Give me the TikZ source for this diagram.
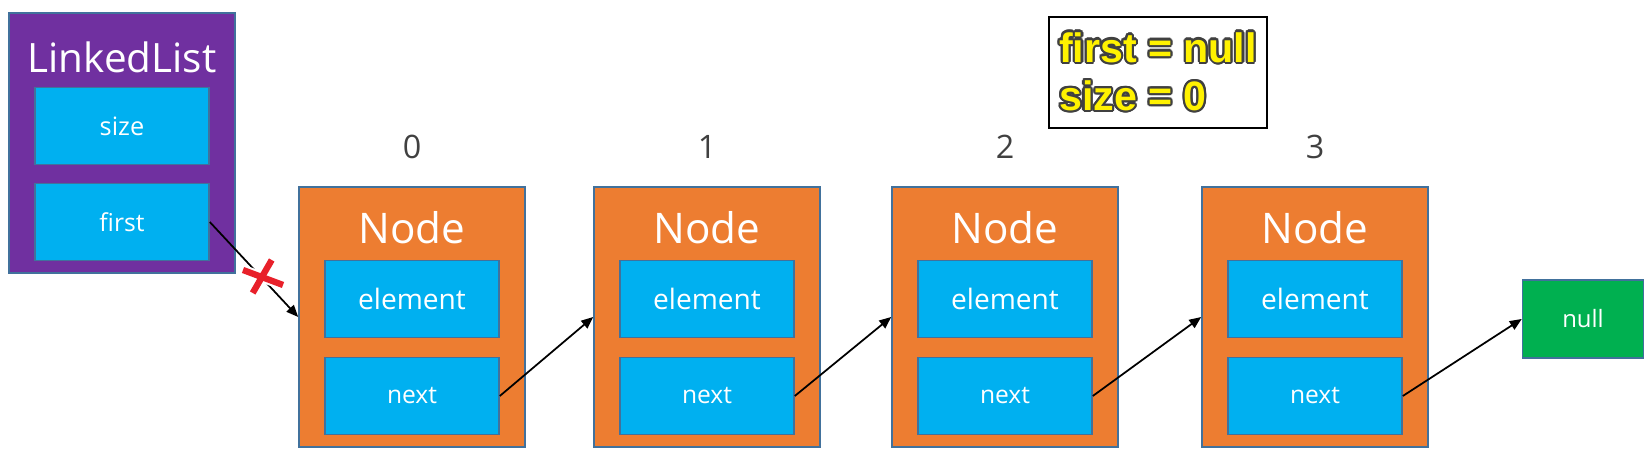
\documentclass[tikz,border=0pt]{standalone}
\usepackage{fontspec}
\setmainfont{Open Sans}
\newfontfamily\legendfont{Liberation Sans}
\usepackage{contour}
\contourlength{0.6pt}
\usetikzlibrary{arrows.meta}

\definecolor{listpurple}{HTML}{7030A0}
\definecolor{fieldblue}{HTML}{00B0F0}
\definecolor{nodeorange}{HTML}{ED7D31}
\definecolor{nullgreen}{HTML}{00B050}
\definecolor{edgeblue}{HTML}{41719C}
\definecolor{idxgray}{HTML}{404040}
\definecolor{crossred}{HTML}{E8202A}

\tikzset{
  box/.style={draw=edgeblue, line width=0.45pt, inner sep=0pt},
  holder/.style={box, minimum width=2.26cm, minimum height=2.60cm},
  field/.style={box, fill=fieldblue, text=white, minimum width=1.74cm, minimum height=0.77cm},
  title/.style={text=white, inner sep=0pt},
  index/.style={text=idxgray, inner sep=0pt, font=\fontsize{9.2}{11}\selectfont},
  ptr/.style={draw=black, line width=0.5pt, -{Triangle[length=3.4pt,width=2.8pt]}}
}

\begin{document}
\begin{tikzpicture}
  \path[fill=white, use as bounding box] (0,0) rectangle (16.51,-4.51);

  % the list object
  \node[holder, fill=listpurple] (ll) at (1.22,-1.43) {};
  \node[title, font=\fontsize{11.5}{13}\selectfont] (lltitle) at (1.22,-0.57) {LinkedList};
  \node[field, font=\fontsize{7.2}{9}\selectfont] (size) at (1.22,-1.26) {size};
  \node[field, font=\fontsize{7}{9}\selectfont] (first) at (1.22,-2.22) {first};

  % the nodes
  \node[holder, fill=nodeorange] (n0) at (4.12,-3.17) {};
  \node[title, font=\fontsize{12}{14}\selectfont] (t0) at (4.12,-2.28) {Node};
  \node[field, font=\fontsize{8}{10}\selectfont] (e0) at (4.12,-2.99) {element};
  \node[field, font=\fontsize{7}{9}\selectfont] (x0) at (4.12,-3.96) {next};
  \node[index] (i0) at (4.12,-1.47) {0};

  \node[holder, fill=nodeorange] (n1) at (7.07,-3.17) {};
  \node[title, font=\fontsize{12}{14}\selectfont] (t1) at (7.07,-2.28) {Node};
  \node[field, font=\fontsize{8}{10}\selectfont] (e1) at (7.07,-2.99) {element};
  \node[field, font=\fontsize{7}{9}\selectfont] (x1) at (7.07,-3.96) {next};
  \node[index] (i1) at (7.07,-1.47) {1};

  \node[holder, fill=nodeorange] (n2) at (10.05,-3.17) {};
  \node[title, font=\fontsize{12}{14}\selectfont] (t2) at (10.05,-2.28) {Node};
  \node[field, font=\fontsize{8}{10}\selectfont] (e2) at (10.05,-2.99) {element};
  \node[field, font=\fontsize{7}{9}\selectfont] (x2) at (10.05,-3.96) {next};
  \node[index] (i2) at (10.05,-1.47) {2};

  \node[holder, fill=nodeorange] (n3) at (13.15,-3.17) {};
  \node[title, font=\fontsize{12}{14}\selectfont] (t3) at (13.15,-2.28) {Node};
  \node[field, font=\fontsize{8}{10}\selectfont] (e3) at (13.15,-2.99) {element};
  \node[field, font=\fontsize{7}{9}\selectfont] (x3) at (13.15,-3.96) {next};
  \node[index] (i3) at (13.15,-1.47) {3};

  \node[box, fill=nullgreen, text=white, minimum width=1.21cm, minimum height=0.78cm,
        font=\fontsize{6.8}{9}\selectfont] (null) at (15.83,-3.19) {null};

  % legend
  \node[draw=black, line width=0.6pt, minimum width=2.18cm, minimum height=1.11cm,
        align=left, text=yellow, inner sep=0pt,
        font=\legendfont\bfseries\fontsize{11.7}{13.7}\selectfont] (legend) at (11.58,-0.725)
        {\contour{idxgray}{first = null}\\\contour{idxgray}{size = 0}};

  % pointers
  \draw[ptr] (first.east) -- (n0.west);
  \draw[ptr] (x0.east) -- (n1.west);
  \draw[ptr] (x1.east) -- (n2.west);
  \draw[ptr] (x2.east) -- (n3.west);
  \draw[ptr] (x3.east) -- (null.west);

  % cut mark on the first pointer
  \draw[white, line width=3pt] (2.717,-2.60) -- (2.527,-2.93) (2.43,-2.70) -- (2.83,-2.85);
  \draw[crossred, line width=1.8pt] (2.717,-2.60) -- (2.527,-2.93) (2.43,-2.70) -- (2.83,-2.85);
\end{tikzpicture}
\end{document}
